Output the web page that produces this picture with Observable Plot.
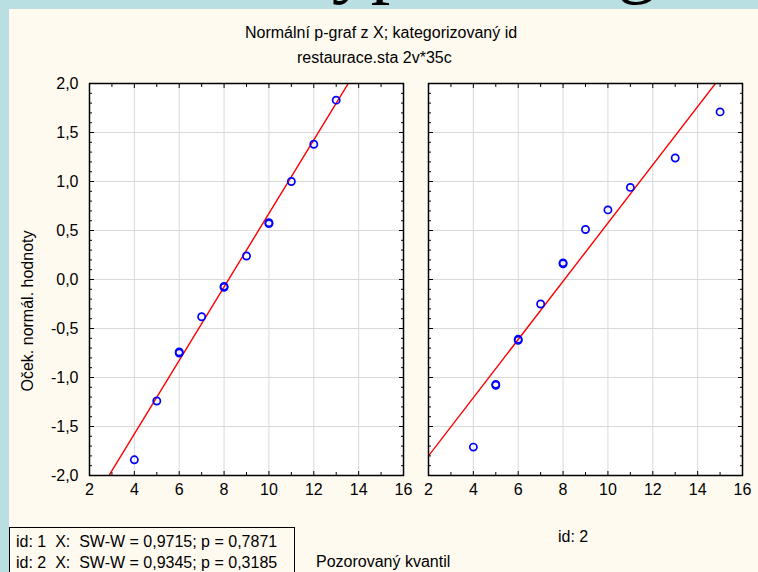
<!DOCTYPE html>
<html lang="cs">
<head>
<meta charset="utf-8">
<script src="https://cdn.jsdelivr.net/npm/d3@7"></script>
<script src="https://cdn.jsdelivr.net/npm/@observablehq/plot@0.6"></script>
<style>
  html, body { margin:0; padding:0; }
  body { width:758px; height:572px; overflow:hidden; position:relative; background:#b9dfe3;
         font-family:"Liberation Sans", Arial, sans-serif; color:#000; }
  .abs { position:absolute; white-space:nowrap; }
  #slideTitle { left:-29px; top:-77px; font-family:"Liberation Serif","Times New Roman",serif;
                font-size:78px; line-height:78px; }
  #sheet { left:9px; top:9px; width:749px; height:563px; background:#fffaf0; }
  .t16 { font-size:16px; line-height:20px; }
  #title1 { left:245px; top:23px; }
  #title2 { left:297px; top:48px; }
  #ylab { left:-72px; top:301px; width:200px; text-align:center; transform:rotate(-90deg); }
  #legendBox { left:9px; top:527px; width:286px; height:60px; border:1px solid #000;
               padding:4px 0 0 6px; box-sizing:border-box; line-height:20.5px; font-size:16px; }
  #id2 { left:558px; top:527px; }
  #xlab { left:316px; top:552px; }
  #p1 { left:0; top:0; }
  #p2 { left:416px; top:0; }
  svg { overflow:visible; }
</style>
</head>
<body>
<div id="slideTitle" class="abs">Testování hypotéz – grafický test normality</div>
<div id="sheet" class="abs"></div>
<div id="title1" class="abs t16">Normální p-graf z X; kategorizovaný id</div>
<div id="title2" class="abs t16">restaurace.sta 2v*35c</div>
<div id="ylab" class="abs t16">Oček. normál. hodnoty</div>
<div id="p1" class="abs"></div>
<div id="p2" class="abs"></div>
<div id="legendBox" class="abs"><div>id: 1&nbsp; X:&nbsp; SW-W = 0,9715; p = 0,7871</div><div>id: 2&nbsp; X:&nbsp; SW-W = 0,9345; p = 0,3185</div></div>
<div id="id2" class="abs t16">id: 2</div>
<div id="xlab" class="abs t16">Pozorovaný kvantil</div>
<script>
// ---- data ----
const xTicks = [2, 4, 6, 8, 10, 12, 14, 16];
const xMinorTicks = [3, 5, 7, 9, 11, 13, 15];
const yTicks = [-2, -1.5, -1, -0.5, 0, 0.5, 1, 1.5, 2];
const yMinorTicks = d3.range(-20, 21).filter(i => i % 5 !== 0).map(i => i / 10);
const xDomain = [2, 16];
const yDomain = [-2, 2];

// id: 1 — observed quantile (X) and expected normal value
const id1Observed = [4, 5, 6, 6, 7, 8, 8, 9, 10, 10, 11, 12, 13];
const id1Expected = [-1.84, -1.24, -0.74, -0.75, -0.38, -0.07, -0.08, 0.24, 0.57, 0.58, 1.00, 1.38, 1.83];
// id: 2
const id2Observed = [4, 5, 5, 6, 6, 7, 8, 8, 9, 10, 11, 13, 15];
const id2Expected = [-1.71, -1.07, -1.08, -0.61, -0.62, -0.25, 0.17, 0.16, 0.51, 0.71, 0.94, 1.24, 1.71];
// fitted normal lines (expected = intercept + slope * X)
const fitSlope = [0.375, 0.297];
const fitIntercept = [-3.076, -2.394];

const csLocale = d3.formatLocale({decimal: ",", thousands: "\u00a0", grouping: [3], currency: ["", " Kč"], minus: "-"});
const fmt1 = csLocale.format(".1f");

function panel(k, observed, expected, opts) {
  const points = observed.map((x, j) => ({x, y: expected[j]}));
  const fit = xDomain.map(x => ({x, y: fitIntercept[k] + fitSlope[k] * x}));
  const tk = {stroke: "#000", strokeWidth: 1, fill: "none", label: null};
  return Plot.plot({
    width: opts.width, height: 520,
    marginLeft: opts.ml, marginRight: opts.mr, marginTop: 83, marginBottom: 45,
    x: {domain: xDomain},
    y: {domain: yDomain},
    style: {fontFamily: '"Liberation Sans", Arial, sans-serif', fontSize: "16px", color: "#000",
            background: "transparent", overflow: "visible"},
    marks: [
      Plot.frame({fill: "#ffffff", stroke: null}),
      Plot.gridX(xTicks, {stroke: "#d9d9d9", strokeOpacity: 1}),
      Plot.gridY(yTicks, {stroke: "#d9d9d9", strokeOpacity: 1}),
      Plot.line(fit, {x: "x", y: "y", stroke: "#ff0000", strokeWidth: 1.4, clip: true}),
      Plot.dot(points, {x: "x", y: "y", r: 3.6, stroke: "#0000ff", strokeWidth: 1.7, fill: "none"}),
      Plot.axisX(xTicks, {anchor: "bottom", tickSize: -4, ...tk}),
      Plot.axisX(xTicks, {anchor: "top", tickSize: -4, ...tk}),
      Plot.axisX(xMinorTicks, {anchor: "bottom", tickSize: -3, ...tk}),
      Plot.axisX(xMinorTicks, {anchor: "top", tickSize: -3, ...tk}),
      Plot.axisY(yTicks, {anchor: "left", tickSize: -5, ...tk}),
      Plot.axisY(yTicks, {anchor: "right", tickSize: -5, ...tk}),
      Plot.axisY(yMinorTicks, {anchor: "left", tickSize: -3, ...tk}),
      Plot.axisY(yMinorTicks, {anchor: "right", tickSize: -3, ...tk}),
      Plot.axisX(xTicks, {anchor: "bottom", tickSize: 0, tickPadding: 8, tickFormat: d => String(d), label: null}),
      opts.yLabels ? Plot.axisY(yTicks, {anchor: "left", tickSize: 0, tickPadding: 11, tickFormat: fmt1, label: null}) : null,
      Plot.frame({stroke: "#000", strokeWidth: 1.5})
    ]
  });
}

document.getElementById("p1").append(panel(0, id1Observed, id1Expected, {width: 416, ml: 89, mr: 13, yLabels: true}));
document.getElementById("p2").append(panel(1, id2Observed, id2Expected, {width: 342, ml: 12, mr: 16, yLabels: false}));
</script>
</body>
</html>
